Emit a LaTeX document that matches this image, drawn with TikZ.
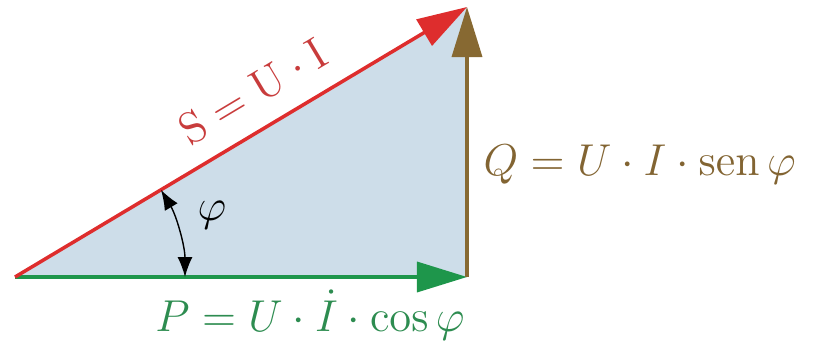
\RequirePackage{fix-cm}
\documentclass[tikz,border=0pt]{standalone}
\usepackage{amsmath}
\usepackage{tikz}
\usetikzlibrary{arrows.meta,calc}

\definecolor{vecred}{RGB}{222,45,45}
\definecolor{vecgreen}{RGB}{30,150,75}
\definecolor{vecbrown}{RGB}{135,105,50}
\definecolor{txtred}{RGB}{200,60,60}
\definecolor{txtgreen}{RGB}{45,140,80}
\definecolor{txtbrown}{RGB}{130,100,50}
\definecolor{trifill}{RGB}{205,221,233}

\tikzset{
  vec/.style={line width=1pt, -{Triangle[length=0.5cm,width=0.3cm]}},
  lbl/.style={font=\fontsize{12.7}{15}\selectfont, inner sep=0pt},
  angtip/.style={line width=0.4pt, {Latex[length=0.2cm,width=0.15cm]}-{Latex[length=0.2cm,width=0.15cm]}},
}

\begin{document}
\begin{tikzpicture}
  \useasboundingbox (0,0) rectangle (8.13,3.40);

  % Triangle corners
  \coordinate (O) at (0.15,0.63);
  \coordinate (A) at (4.67,0.63);
  \coordinate (B) at (4.67,3.33);

  % Shaded area
  \fill[trifill] (O) -- (A) -- (B) -- cycle;

  % Power vectors
  \draw[vec, vecgreen] (O) -- (A);
  \draw[vec, vecbrown] (A) -- (B);
  \draw[vec, vecred] (O) -- (B);

  % Angle
  \draw[angtip] ($(O)+(30.85:1.7)$) arc[start angle=30.85, end angle=0, radius=1.7];
  \node[lbl] (phi) at (2.12,1.25) {$\varphi$};

  % Labels
  \node[lbl, txtred, rotate=30.85] (S) at (2.53,2.49) {$\mathrm{S}=\mathrm{U}\cdot\mathrm{I}$};
  \node[lbl, txtbrown, anchor=west] (Q) at (4.83,1.75) {$Q=U\cdot I\cdot\operatorname{sen}\varphi$};
  \node[lbl, txtgreen] (P) at (3.10,0.25) {$P=U\cdot\dot{I}\cdot\cos\varphi$};
\end{tikzpicture}
\end{document}
